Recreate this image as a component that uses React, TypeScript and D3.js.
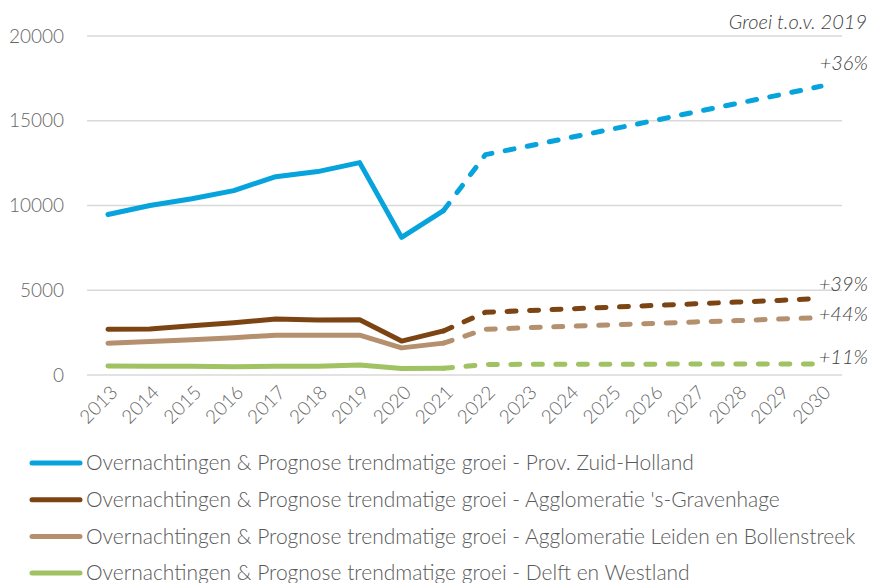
import * as d3 from "d3";
import { useEffect, useRef } from "react";

const years = ["2013","2014","2015","2016","2017","2018","2019","2020","2021","2022","2023","2024","2025","2026","2027","2028","2029","2030"];

const zuidHolland = [9470, 10000, 10400, 10880, 11700, 12000, 12530, 8120, 9700, 13000, 13500, 14000, 14500, 15000, 15520, 16020, 16520, 17040];
const denHaag = [2700, 2720, 2900, 3080, 3300, 3250, 3260, 2000, 2600, 3700, 3800, 3900, 4000, 4100, 4200, 4300, 4400, 4520];
const leiden = [1880, 1980, 2080, 2200, 2350, 2340, 2350, 1600, 1880, 2700, 2790, 2870, 2960, 3040, 3130, 3210, 3300, 3380];
const delft = [530, 510, 520, 490, 520, 510, 590, 380, 400, 620, 630, 630, 640, 640, 645, 645, 650, 655];

const yTicks = [0, 5000, 10000, 15000, 20000];
const growthLabels = ["+36%", "+39%", "+44%", "+11%"];
const legendNames = [
  "Overnachtingen & Prognose trendmatige groei - Prov. Zuid-Holland",
  "Overnachtingen & Prognose trendmatige groei - Agglomeratie 's-Gravenhage",
  "Overnachtingen & Prognose trendmatige groei - Agglomeratie Leiden en Bollenstreek",
  "Overnachtingen & Prognose trendmatige groei - Delft en Westland",
];
const colors = ["#06a3dc", "#7d4413", "#b5906f", "#a0c262"];
const splitIndex = 8; // 2021: measured ends here, forecast starts

const App = () => {
  const svgRef = useRef(null);
  const width = 872;
  const height = 583;
  const font = "Lato, sans-serif";

  useEffect(() => {
    const svg = d3.select(svgRef.current);
    svg.selectAll("*").remove();

    const left = 87, right = 842, top = 36, bottom = 375;

    const x = d3.scaleBand().domain(years).range([left, right]);
    const cx = (i) => x(years[i]) + x.bandwidth() / 2;
    const y = d3.scaleLinear().domain([0, 20000]).range([bottom, top]);

    // gridlines + y labels
    svg.append("g").selectAll("line").data(yTicks).join("line")
      .attr("x1", left).attr("x2", right)
      .attr("y1", d => y(d)).attr("y2", d => y(d))
      .attr("stroke", "#d9d9d9").attr("stroke-width", 1.3);

    svg.append("g").selectAll("text").data(yTicks).join("text")
      .attr("x", 64).attr("y", d => y(d)).attr("dy", "0.35em")
      .attr("text-anchor", "end")
      .attr("fill", "#666666").attr("font-size", 19).attr("font-weight", 300)
      .attr("font-family", font)
      .text(d => d);

    // x labels
    svg.append("g").selectAll("text").data(years).join("text")
      .attr("transform", (d, i) => `translate(${cx(i) + 6},${bottom + 14}) rotate(-45)`)
      .attr("text-anchor", "end").attr("dy", "0.35em")
      .attr("fill", "#666666").attr("font-size", 19).attr("font-weight", 300)
      .attr("font-family", font)
      .text(d => d);

    const series = [zuidHolland, denHaag, leiden, delft];
    const line = d3.line().x(d => cx(d[0])).y(d => y(d[1]));

    // draw back to front so blue stays on top
    series.slice().reverse().forEach((vals, ri) => {
      const si = series.length - 1 - ri;
      const pts = vals.map((v, i) => [i, v]);
      svg.append("path")
        .datum(pts.slice(splitIndex))
        .attr("fill", "none").attr("stroke", colors[si])
        .attr("stroke-width", 5).attr("stroke-linecap", "round")
        .attr("stroke-dasharray", "9 13.5")
        .attr("d", line);
      svg.append("path")
        .datum(pts.slice(0, splitIndex + 1))
        .attr("fill", "none").attr("stroke", colors[si])
        .attr("stroke-width", 5).attr("stroke-linejoin", "round")
        .attr("stroke-linecap", "round")
        .attr("d", line);
    });

    // annotations
    const ann = svg.append("g").attr("font-family", font).attr("font-style", "italic")
      .attr("fill", "#404040").attr("font-size", 20).attr("font-weight", 300);
    ann.append("text").attr("x", 867).attr("y", 22).attr("dy", "0.35em").attr("text-anchor", "end").text("Groei t.o.v. 2019");
    const annY = [y(zuidHolland[17]) - 23, y(denHaag[17]) - 14, y(leiden[17]) - 4, y(delft[17]) - 7];
    growthLabels.forEach((t, i) => {
      ann.append("text").attr("x", 868).attr("y", annY[i]).attr("dy", "0.35em")
        .attr("text-anchor", "end").text(t);
    });

    // legend
    const leg = svg.append("g").attr("font-family", font);
    legendNames.forEach((name, i) => {
      const ly = 463 + i * 36.7;
      leg.append("line").attr("x1", 32).attr("x2", 80).attr("y1", ly).attr("y2", ly)
        .attr("stroke", colors[i]).attr("stroke-width", 5).attr("stroke-linecap", "round");
      leg.append("text").attr("x", 86).attr("y", ly).attr("dy", "0.35em")
        .attr("fill", "#595959").attr("font-size", 21).attr("font-weight", 300)
        .text(name);
    });
  }, []);

  return (
    <svg ref={svgRef} width={width} height={height}
      style={{ position: "absolute", left: 0, top: 0 }} />
  );
};

export default App;
